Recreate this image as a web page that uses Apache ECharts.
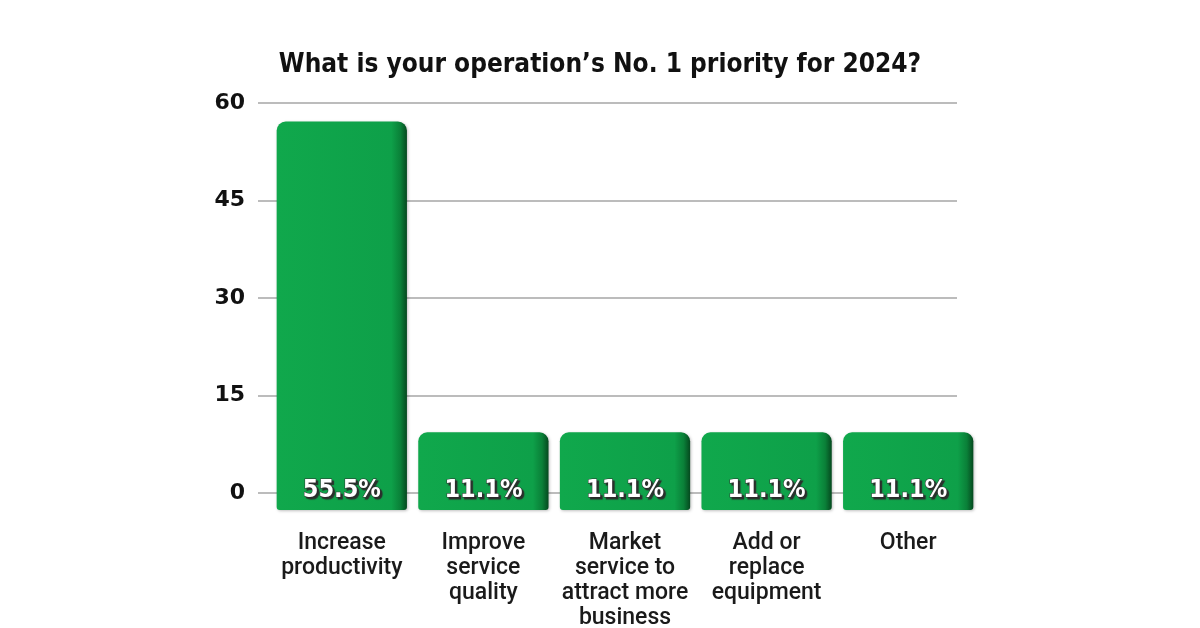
<!DOCTYPE html>
<html>
<head>
<meta charset="utf-8">
<script src="https://cdn.jsdelivr.net/npm/echarts@6/dist/echarts.min.js"></script>
<style>
  html, body { margin: 0; padding: 0; background: #fff; }
  #priorityChart { width: 1200px; height: 628px; }
</style>
</head>
<body>
<div id="priorityChart"></div>
<script>
// survey data
const categories = [
  "Increase\nproductivity",
  "Improve\nservice\nquality",
  "Market\nservice to\nattract more\nbusiness",
  "Add or\nreplace\nequipment",
  "Other"
];
const shares = [55.5, 11.1, 11.1, 11.1, 11.1];
const yTicks = [0, 15, 30, 45, 60];

const chart = echarts.init(document.getElementById("priorityChart"));

// bar face: flat green with a darker right edge
const barFace = new echarts.graphic.LinearGradient(0, 0, 1, 0, [
  { offset: 0, color: "#10a84c" },
  { offset: 0.88, color: "#0ea049" },
  { offset: 0.95, color: "#0a8038" },
  { offset: 1, color: "#05491f" }
]);

const condensed = "'Liberation Sans Narrow', 'DejaVu Sans Condensed', sans-serif";

const option = {
  animation: false,
  title: {
    text: "What is your operation\u2019s No. 1 priority for 2024?",
    left: "center",
    top: 47,
    textStyle: {
      fontFamily: condensed,
      fontWeight: "bold",
      fontSize: 26,
      color: "#111111"
    }
  },
  grid: [
    // grid with visible value axis and gridlines
    { left: 258, right: 243, top: 103, bottom: 135, outerBoundsMode: "none", containLabel: false },
    // grid holding the bars
    { left: 271, right: 221, top: 90, bottom: 118, outerBoundsMode: "none", containLabel: false }
  ],
  xAxis: [
    { gridIndex: 0, type: "category", data: categories, show: false },
    {
      gridIndex: 1,
      type: "category",
      data: categories,
      axisLine: { show: false },
      axisTick: { show: false },
      axisLabel: {
        margin: 21,
        fontFamily: "Roboto, 'Liberation Sans', sans-serif",
        fontWeight: 500,
        fontSize: 23,
        lineHeight: 25,
        color: "#1a1a1a",
        interval: 0
      }
    }
  ],
  yAxis: [
    {
      gridIndex: 0,
      type: "value",
      min: yTicks[0],
      max: yTicks[yTicks.length - 1],
      interval: 15,
      axisLine: { show: false },
      axisTick: { show: false },
      axisLabel: {
        margin: 13,
        fontFamily: "'DejaVu Sans', sans-serif",
        fontWeight: "bold",
        fontSize: 22,
        color: "#111111"
      },
      splitLine: { lineStyle: { color: "#a6a6a6", width: 1.5 } }
    },
    { gridIndex: 1, type: "value", min: 0, max: 60, show: false }
  ],
  series: [{
    type: "bar",
    xAxisIndex: 1,
    yAxisIndex: 1,
    data: shares,
    barCategoryGap: "8%",
    itemStyle: {
      color: barFace,
      borderRadius: [9, 9, 3, 3],
      shadowColor: "rgba(0,0,0,0.25)",
      shadowBlur: 3,
      shadowOffsetX: 1,
      shadowOffsetY: 1
    },
    label: {
      show: true,
      position: "insideBottom",
      distance: 7,
      formatter: (p) => p.value + "%",
      fontFamily: condensed,
      fontWeight: "bold",
      fontSize: 25,
      color: "#ffffff",
      textBorderColor: "#333333",
      textBorderWidth: 1,
      textShadowColor: "#2a2a2a",
      textShadowOffsetX: 2,
      textShadowOffsetY: 2,
      textShadowBlur: 1
    }
  }]
};

chart.setOption(option);
</script>
</body>
</html>
